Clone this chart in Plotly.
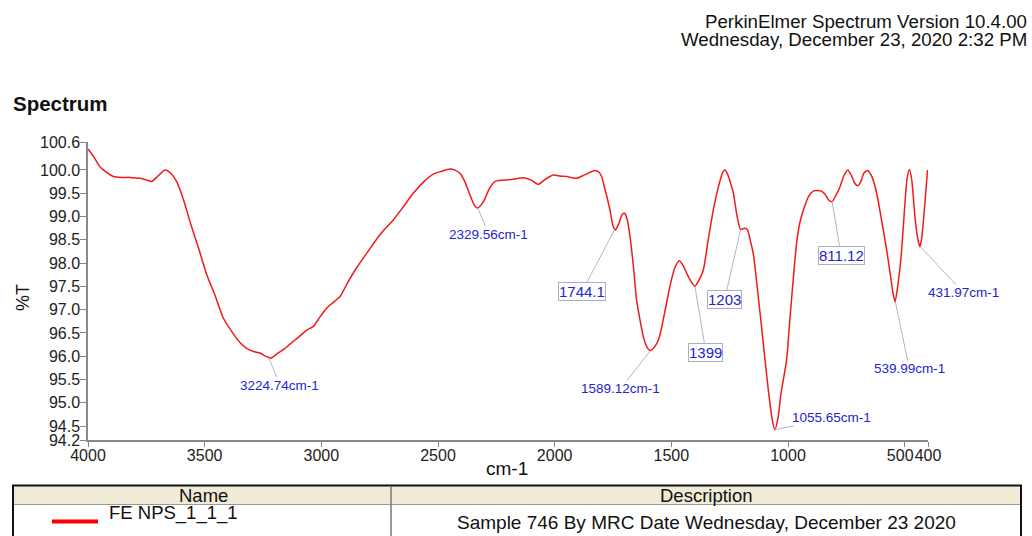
import plotly.graph_objects as go

# ---- data ----
wavenumber = [4000, 3975, 3949, 3920, 3891, 3855, 3820, 3777, 3745, 3727, 3700, 3670, 3645, 3620,
              3590, 3563, 3525, 3491, 3455, 3420, 3380, 3350, 3320, 3290, 3263, 3240, 3215, 3190,
              3160, 3134, 3100, 3065, 3034, 3005, 2977, 2950, 2920, 2885, 2849, 2800, 2749, 2691,
              2650, 2606, 2560, 2520, 2485, 2449, 2425, 2406, 2385, 2363, 2345, 2331, 2315, 2299,
              2280, 2256, 2220, 2177, 2134, 2100, 2070, 2040, 2006, 1977, 1940, 1906, 1870, 1827,
              1810, 1799, 1785, 1763, 1750, 1740, 1725, 1710, 1700, 1690, 1677, 1662, 1649, 1635,
              1620, 1605, 1590, 1575, 1560, 1549, 1530, 1506, 1485, 1466, 1450, 1434, 1415, 1399,
              1385, 1363, 1345, 1320, 1295, 1280, 1270, 1258, 1245, 1234, 1218, 1203, 1185, 1174,
              1160, 1149, 1130, 1106, 1085, 1068, 1056, 1042, 1030, 1006, 991, 975, 963, 950, 934,
              910, 890, 877, 860, 841, 825, 811, 795, 777, 760, 744, 728, 715, 701, 688, 675, 658,
              640, 620, 600, 577, 560, 548, 541, 530, 520, 513, 500, 490, 480, 470, 456, 445, 435,
              428, 418, 410, 402]
transmittance = [100.45, 100.28, 100.07, 99.95, 99.86, 99.84, 99.84, 99.82, 99.78, 99.75, 99.87, 100.0,
                 99.93, 99.75, 99.35, 98.89, 98.3, 97.75, 97.3, 96.82, 96.5, 96.3, 96.17, 96.1, 96.07,
                 96.0, 95.96, 96.05, 96.15, 96.26, 96.4, 96.55, 96.64, 96.85, 97.03, 97.15, 97.28,
                 97.6, 97.9, 98.25, 98.61, 98.93, 99.2, 99.5, 99.75, 99.91, 99.97, 100.02, 99.99,
                 99.93, 99.75, 99.46, 99.25, 99.18, 99.25, 99.38, 99.6, 99.75, 99.78, 99.8, 99.83,
                 99.78, 99.69, 99.8, 99.89, 99.87, 99.85, 99.82, 99.9, 99.99, 99.95, 99.86, 99.6,
                 99.14, 98.8, 98.71, 98.85, 99.05, 99.07, 98.95, 98.57, 97.9, 97.21, 96.8, 96.42,
                 96.2, 96.12, 96.18, 96.3, 96.45, 96.9, 97.5, 97.9, 98.05, 97.95, 97.78, 97.6, 97.5,
                 97.6, 97.85, 98.4, 99.14, 99.7, 99.95, 100.0, 99.9, 99.7, 99.5, 99.0, 98.72, 98.75,
                 98.72, 98.45, 98.21, 97.4, 96.28, 95.3, 94.65, 94.42, 94.7, 95.2, 95.92, 96.85, 97.8,
                 98.43, 98.85, 99.14, 99.45, 99.55, 99.56, 99.55, 99.48, 99.35, 99.32, 99.45, 99.64,
                 99.88, 100.0, 99.88, 99.72, 99.66, 99.75, 99.93, 99.99, 99.85, 99.5, 98.95, 98.28,
                 97.7, 97.3, 97.17, 97.5, 97.9, 98.28, 99.2, 99.8, 100.01, 99.8, 99.0, 98.55, 98.35,
                 98.5, 99.0, 99.5, 100.0]

peak_wn = [3224.74, 2329.56, 1744.1, 1589.12, 1399, 1203, 1055.65, 811.12, 539.99, 431.97]
peak_t = [95.96, 99.18, 98.71, 96.12, 97.5, 98.72, 94.42, 99.32, 97.17, 98.35]
peak_text = ["3224.74cm-1", "2329.56cm-1", "1744.1", "1589.12cm-1", "1399", "1203",
             "1055.65cm-1", "811.12", "539.99cm-1", "431.97cm-1"]
peak_boxed = [False, False, True, False, True, True, False, True, False, False]

x_ticks = [4000, 3500, 3000, 2500, 2000, 1500, 1000, 500, 400]
x_ticktext = ["4000", "3500", "3000", "2500", "2000", "1500", "1000", "500\u00a0\u00a0", "400"]
y_ticks = [94.2, 94.5, 95.0, 95.5, 96.0, 96.5, 97.0, 97.5, 98.0, 98.5, 99.0, 99.5, 100.0, 100.6]

header_lines = ["PerkinElmer Spectrum Version 10.4.00", "Wednesday, December 23, 2020 2:32 PM"]
sample_name = "FE NPS_1_1_1"
sample_desc = "Sample 746 By MRC Date Wednesday, December 23 2020"

# ---- label offsets (pixels) : layout only ----
label_offsets = [(11, 27), (11, 26), (-32, 61), (-30, 38), (11, 66), (-16, 70),
                 (56, -12), (9, 54), (14, 67), (43, 46)]

FONT = "Liberation Sans, Arial, sans-serif"
W, H = 1032, 536
L, R, T, B = 88, 104, 142, 96
PW, PH = W - L - R, H - T - B


def px(xp):
    return (xp - L) / PW


def py(yp):
    return (H - B - yp) / PH


fig = go.Figure()
fig.add_trace(go.Scatter(x=wavenumber, y=transmittance, mode="lines",
                         line=dict(color="#f01a1a", width=1.5, shape="spline", smoothing=0.6),
                         hoverinfo="x+y", showlegend=False))

annotations = []
for wn, tv, txt, boxed, (ax, ay) in zip(peak_wn, peak_t, peak_text, peak_boxed, label_offsets):
    annotations.append(dict(
        x=wn, y=tv, xref="x", yref="y", text=txt, showarrow=True, arrowhead=0,
        arrowwidth=1, arrowcolor="#b4b4cc", ax=ax, ay=ay, standoff=0,
        font=dict(family=FONT, size=15 if boxed else 13.5, color="#2424d0"),
        bordercolor="#a8b0c8" if boxed else "rgba(0,0,0,0)", borderwidth=1,
        borderpad=0, bgcolor="white" if boxed else "rgba(0,0,0,0)"))


def text_at(x, y, text, size, anchor="center", bold=False, angle=0):
    return dict(x=px(x), y=py(y), xref="paper", yref="paper", xanchor=anchor,
                yanchor="middle", showarrow=False, text=f"<b>{text}</b>" if bold else text,
                textangle=angle, font=dict(family=FONT, size=size, color="#111"))


annotations += [
    text_at(1029, 21, header_lines[0], 18.7, "right"),
    text_at(1029, 40, header_lines[1], 18.7, "right"),
    text_at(11, 103, "Spectrum", 20.5, "left", bold=True),
    text_at(507, 468, "cm-1", 19),
    text_at(23, 298, "%T", 18, angle=-90),
    text_at(203, 495, "Name", 18.5),
    text_at(706, 495, "Description", 18.5),
    text_at(107, 513, sample_name, 18.5, "left"),
    text_at(706, 522, sample_desc, 19),
]

shapes = [
    dict(type="rect", xref="paper", yref="paper", x0=px(13), x1=px(1021), y0=py(486), y1=py(504),
         fillcolor="#efebd6", line=dict(width=0), layer="below"),
    dict(type="line", xref="paper", yref="paper", x0=px(12), x1=px(1022), y0=py(485.5), y1=py(485.5),
         line=dict(color="#111", width=2)),
    dict(type="line", xref="paper", yref="paper", x0=px(13), x1=px(1021), y0=py(504.5), y1=py(504.5),
         line=dict(color="#9a9a90", width=1)),
    dict(type="line", xref="paper", yref="paper", x0=px(13), x1=px(13), y0=py(485), y1=py(540),
         line=dict(color="#111", width=2)),
    dict(type="line", xref="paper", yref="paper", x0=px(1021), x1=px(1021), y0=py(485), y1=py(540),
         line=dict(color="#111", width=2)),
    dict(type="line", xref="paper", yref="paper", x0=px(391), x1=px(391), y0=py(486), y1=py(540),
         line=dict(color="#777", width=1.5)),
    dict(type="line", xref="paper", yref="paper", x0=px(52), x1=px(98), y0=py(521.5), y1=py(521.5),
         line=dict(color="#ff0000", width=4)),
]

fig.update_layout(
    width=W, height=H, margin=dict(l=L, r=R, t=T, b=B),
    paper_bgcolor="white", plot_bgcolor="white",
    font=dict(family=FONT, color="#222"),
    annotations=annotations, shapes=shapes, showlegend=False,
    xaxis=dict(range=[4000, 400], tickmode="array", tickvals=x_ticks,
               ticktext=x_ticktext, ticks="outside", ticklen=5, ticklabelstandoff=-5,
               tickangle=0, tickcolor="#888", showline=True, linecolor="#888", linewidth=1.5,
               showgrid=False, zeroline=False, tickfont=dict(size=16, color="#222")),
    yaxis=dict(range=[94.2, 100.6], tickmode="array", tickvals=y_ticks,
               ticktext=[f"{v:.1f}" for v in y_ticks], ticks="outside", ticklen=6,
               ticklabelstandoff=-3,
               tickcolor="#888", showline=True, linecolor="#888", linewidth=1.5,
               showgrid=False, zeroline=False, tickfont=dict(size=16, color="#222")),
)

fig.write_html("out.html", config={"displayModeBar": False},
               post_script="document.body.style.margin='0px';document.body.style.overflow='hidden';")
